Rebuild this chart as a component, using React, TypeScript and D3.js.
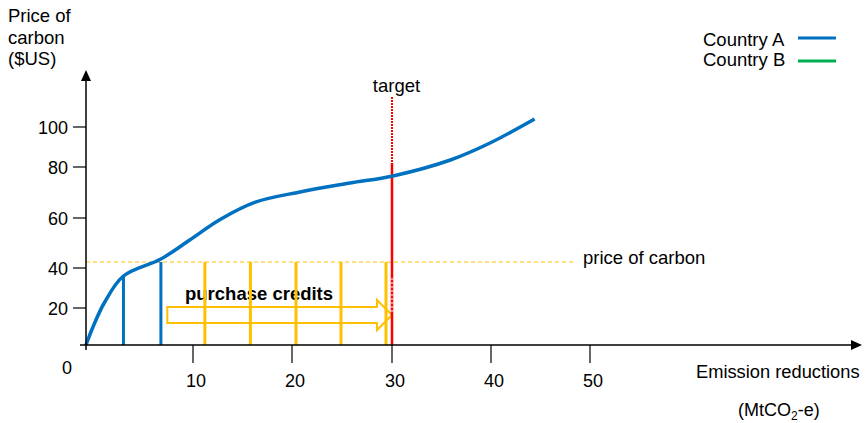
import React from "react";
import * as d3 from "d3";

// ---- data ----
const xTickValues = [10, 20, 30, 40, 50];
const yTickValues = [20, 40, 60, 80, 100];
const curveX = [0, 0.65, 1.7, 3.5, 7, 9.7, 12.7, 16.3, 20.8, 25.8, 30.1, 35.9, 39.9, 44.4];
const curveY = [0, 9.7, 22.5, 36, 43.6, 51.2, 59.3, 66.2, 70.2, 73.7, 76.5, 83.5, 92, 104];
const countryABarsX = [3.5, 7];
const countryABarsTop = [36, 42.4];
const creditBarsX = [11.2, 15.8, 20.4, 24.9, 29.4];
const carbonPrice = 42.4;
const carbonPriceEnd = 48.3;
const target = 30;
const targetTop = 115;
const targetSolidTop = 82;
const targetGapRange = [17.3, 35];
const arrowStart = 7.6;
const arrowLevel = 16.2;
const legendItems = ["Country A", "Country B"];
const legendColors = ["#0070C0", "#00B050"];

const FONT = "'Liberation Sans', Arial, sans-serif";

export default function App() {
  const W = 865, H = 423;
  const x = d3.scaleLinear().domain([0, 10, 20, 30, 40, 50]).range([86, 193, 292, 392, 491, 590]);
  const y = d3.scaleLinear().domain([0, 20, 40, 60, 80, 100]).range([345, 308, 268, 218, 167, 127]);
  const pts: [number, number][] = curveX.map((v, i) => [v, curveY[i]]);
  const line = d3
    .line<[number, number]>()
    .x((d) => x(d[0]))
    .y((d) => y(d[1]))
    .curve(d3.curveCatmullRom.alpha(0.5));

  const ax0 = x(arrowStart), ax1 = x(target), ay = y(arrowLevel);
  const sh = 8, hh = 15, hl = 15;
  const arrowPath = [
    [ax0, ay - sh], [ax1 - hl, ay - sh], [ax1 - hl, ay - hh], [ax1, ay],
    [ax1 - hl, ay + hh], [ax1 - hl, ay + sh], [ax0, ay + sh],
  ].map((p, i) => (i === 0 ? "M" : "L") + p[0] + "," + p[1]).join("") + "Z";

  const x0 = x(0), y0 = y(0);
  const tx = x(target);
  const fs = 18.5;

  return (
    <svg width={W} height={H} style={{ position: "absolute", left: 0, top: 0 }} fontFamily={FONT}>
      <rect width={W} height={H} fill="#fff" />
      {/* axis titles */}
      <text x={8} y={22} fontSize={fs} fill="#000">Price of</text>
      <text x={8} y={43.5} fontSize={fs} fill="#000">carbon</text>
      <text x={8} y={65} fontSize={fs} fill="#000">($US)</text>
      <text x={696} y={378} fontSize={18.3} fill="#000">Emission reductions</text>
      <text x={738} y={416} fontSize={18} fill="#000">
        (MtCO<tspan fontSize={12} dy={4}>2</tspan><tspan dy={-4}>-e)</tspan>
      </text>

      {/* legend */}
      {legendItems.map((name, i) => (
        <g key={name}>
          <text x={703} y={46 + i * 20} fontSize={fs} fill="#000">{name}</text>
          <line x1={798} x2={836} y1={38 + i * 23} y2={38 + i * 23} stroke={legendColors[i]} strokeWidth={3} />
        </g>
      ))}

      {/* price of carbon dashed line */}
      <line x1={x0} x2={x(carbonPriceEnd)} y1={y(carbonPrice)} y2={y(carbonPrice)} stroke="#FFC000" strokeWidth={1.2} strokeDasharray="4,3" />
      <text x={583} y={263.5} fontSize={fs} fill="#000">price of carbon</text>

      {/* purchase credits text + arrow */}
      <text x={185} y={300} fontSize={18.5} fontWeight="bold" fill="#000">purchase credits</text>
      <path d={arrowPath} fill="none" stroke="#FFC000" strokeWidth={2} />

      {/* credit bars */}
      {creditBarsX.map((v, i) => (
        <line key={i} x1={x(v)} x2={x(v)} y1={y(carbonPrice)} y2={y0} stroke="#FFC000" strokeWidth={3} />
      ))}
      {/* country A bars */}
      {countryABarsX.map((v, i) => (
        <line key={i} x1={x(v)} x2={x(v)} y1={y(countryABarsTop[i])} y2={y0} stroke="#0070C0" strokeWidth={3} />
      ))}

      {/* target line */}
      <line x1={tx} x2={tx} y1={y(targetTop)} y2={y(targetSolidTop)} stroke="#FF0000" strokeWidth={2} strokeDasharray="2,1" />
      <line x1={tx} x2={tx} y1={y(targetSolidTop)} y2={y0} stroke="#FF0000" strokeWidth={2.5} />
      <line x1={tx} x2={tx} y1={y(targetGapRange[1])} y2={y(targetGapRange[0])} stroke="#fff" strokeWidth={1} strokeDasharray="2,2" />
      <text x={396.5} y={92} fontSize={fs} textAnchor="middle" fill="#000">target</text>

      {/* curve */}
      <path d={line(pts) || ""} fill="none" stroke="#0070C0" strokeWidth={3.5} />

      {/* axes */}
      <line x1={80} x2={852} y1={y0} y2={y0} stroke="#000" strokeWidth={1.5} />
      <path d={`M862,${y0}L851,${y0 - 5}L851,${y0 + 5}Z`} fill="#000" />
      <line x1={x0} x2={x0} y1={350} y2={80} stroke="#000" strokeWidth={1.5} />
      <path d={`M${x0},70L${x0 - 5},81L${x0 + 5},81Z`} fill="#000" />

      {yTickValues.map((v) => (
        <g key={v}>
          <line x1={73} x2={x0} y1={y(v)} y2={y(v)} stroke="#000" strokeWidth={1.2} />
          <text x={68} y={y(v) + 6.5} fontSize={18} textAnchor="end" fill="#000">{v}</text>
        </g>
      ))}
      {xTickValues.map((v) => (
        <g key={v}>
          <line x1={x(v)} x2={x(v)} y1={y0} y2={y0 + 18} stroke="#000" strokeWidth={1.2} />
          <text x={x(v) + 3} y={387} fontSize={18} textAnchor="middle" fill="#000">{v}</text>
        </g>
      ))}
      <text x={67} y={374} fontSize={18} textAnchor="middle" fill="#000">0</text>
    </svg>
  );
}
